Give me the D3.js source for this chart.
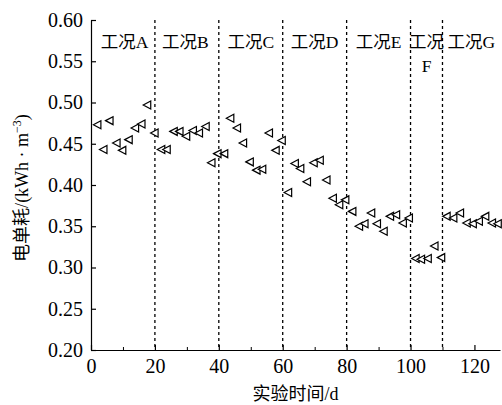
<!DOCTYPE html>
<html><head><meta charset="utf-8">
<script src="https://cdn.jsdelivr.net/npm/d3@7"></script>
<style>body{margin:0;background:#fff}svg{display:block}</style>
</head><body><svg id="c" width="502" height="405"></svg>
<script>
const days = [2.0,3.9,5.8,8.0,9.8,11.8,13.8,15.8,17.6,19.9,
  22.0,23.7,25.9,27.7,29.8,31.9,33.8,35.9,37.7,39.6,
  41.7,43.6,45.7,47.6,49.7,51.8,53.6,55.7,57.8,59.7,
  61.7,63.8,65.5,67.6,69.7,71.6,73.7,75.7,77.7,79.6,
  81.8,83.9,85.6,87.7,89.5,91.6,93.6,95.5,97.6,99.5,
  101.6,103.3,105.4,107.5,109.6,
  111.3,113.4,115.5,117.6,119.5,121.4,123.4,125.5,127.3];
const energy = [0.473,0.443,0.478,0.451,0.442,0.455,0.469,0.474,0.497,0.463,
  0.443,0.443,0.465,0.465,0.459,0.466,0.463,0.471,0.427,0.438,
  0.438,0.481,0.469,0.451,0.428,0.418,0.419,0.463,0.442,0.454,
  0.391,0.426,0.420,0.404,0.427,0.430,0.406,0.384,0.376,0.382,
  0.368,0.350,0.353,0.366,0.353,0.344,0.362,0.364,0.354,0.360,
  0.311,0.310,0.311,0.326,0.312,
  0.362,0.360,0.366,0.354,0.353,0.356,0.362,0.354,0.353];
const boundaries = [20,40,60,80,100,110];
const phaseNames = ["工况A","工况B","工况C","工况D","工况E","工况F","工况G"];
const phaseCenters = [10.5,29.5,50,70,90,105,119];
const xTicks = [0,20,40,60,80,100,120];
const xMinor = [10,30,50,70,90,110];
const yTicks = [0.20,0.25,0.30,0.35,0.40,0.45,0.50,0.55,0.60];

const svg = d3.select("#c");
const x = d3.scaleLinear().domain([0,128]).range([91,500]);
const y = d3.scaleLinear().domain([0.2,0.6]).range([350,20]);
const font = "'Liberation Serif','Times New Roman','Noto Sans CJK SC',serif";

svg.append("g").selectAll("line").data(boundaries).join("line")
  .attr("x1",d=>x(d)).attr("x2",d=>x(d)).attr("y1",y(0.6)).attr("y2",y(0.2))
  .attr("stroke","#000").attr("stroke-width",1.3).attr("stroke-dasharray","3,3");

const xAxis = d3.axisBottom(x).tickValues(xTicks).tickFormat(d3.format("d")).tickSizeInner(-5).tickSizeOuter(0).tickPadding(9);
const gx = svg.append("g").attr("transform",`translate(0,${y(0.2)})`).call(xAxis);
const xAxisMinor = d3.axisBottom(x).tickValues(xMinor).tickFormat("").tickSizeInner(-3).tickSizeOuter(0);
svg.append("g").attr("transform",`translate(0,${y(0.2)})`).call(xAxisMinor).select(".domain").remove();
const yAxis = d3.axisLeft(y).tickValues(yTicks).tickFormat(d3.format(".2f")).tickSizeInner(-5).tickSizeOuter(0).tickPadding(8);
const gy = svg.append("g").attr("transform",`translate(${x(0)},0)`).call(yAxis);
[gx,gy].forEach(g=>{
  g.selectAll("text").attr("font-family",font).attr("font-size",20).attr("fill","#000");
  g.selectAll("line,path").attr("stroke","#000").attr("stroke-width",1.2);
});
gx.selectAll("text").attr("dy","0.71em");

svg.append("g").selectAll("text").data(phaseNames).join("text")
  .attr("x",(d,i)=>x(phaseCenters[i])).attr("y",y(0.57)+3)
  .attr("text-anchor","middle").attr("font-family",font).attr("font-size",17.5)
  .each(function(d,i){
    const t = d3.select(this);
    if (d === "工况F") {
      t.append("tspan").attr("x",x(phaseCenters[i])).text("工况");
      t.append("tspan").attr("x",x(phaseCenters[i])).attr("dy",24).text("F");
    } else t.text(d);
  });

const tri = "M-4,0L3.5,-4L3.5,4Z";
svg.append("g").selectAll("path").data(days).join("path")
  .attr("transform",(d,i)=>`translate(${x(d)},${y(energy[i])})`)
  .attr("d",tri).attr("fill","#fff").attr("stroke","#000").attr("stroke-width",1.2);

svg.append("text").attr("x",x(64)).attr("y",400).attr("text-anchor","middle")
  .attr("font-family",font).attr("font-size",18).text("实验时间/d");
const yt = svg.append("text").attr("transform",`translate(28,${y(0.4)+3}) rotate(-90)`)
  .attr("text-anchor","middle").attr("font-family",font).attr("font-size",18);
yt.append("tspan").text("电单耗/(kWh · m");
yt.append("tspan").attr("dy",-7).attr("font-size",12).text("−3");
yt.append("tspan").attr("dy",7).text(")");
</script></body></html>
